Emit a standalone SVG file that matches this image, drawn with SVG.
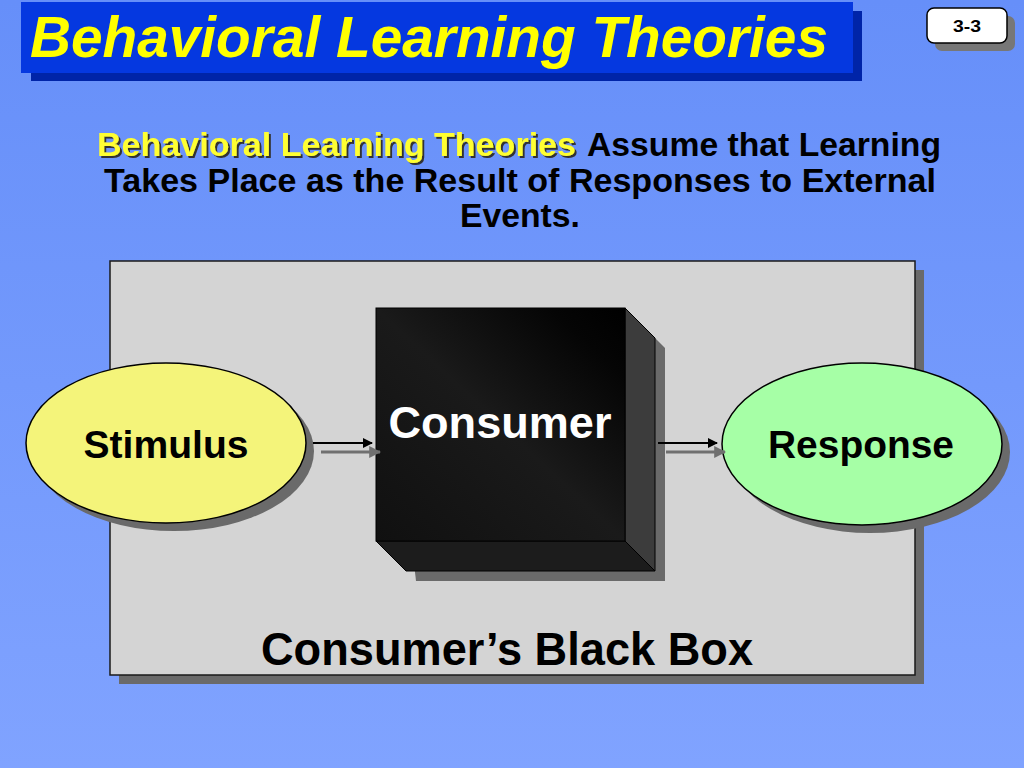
<svg xmlns="http://www.w3.org/2000/svg" width="1024" height="768" viewBox="0 0 1024 768">
<defs>
<linearGradient id="bg" x1="0" y1="0" x2="0" y2="1">
<stop offset="0" stop-color="#668ff9"/>
<stop offset="1" stop-color="#80a3ff"/>
</linearGradient>
<linearGradient id="cubeFront" x1="1" y1="0" x2="0" y2="1">
<stop offset="0" stop-color="#000000"/>
<stop offset="0.15" stop-color="#050505"/>
<stop offset="0.5" stop-color="#1a1a1a"/>
<stop offset="1" stop-color="#101010"/>
</linearGradient>
<filter id="txtShadow" x="-5%" y="-20%" width="110%" height="140%">
<feDropShadow dx="2" dy="2" stdDeviation="0.3" flood-color="#333" flood-opacity="1"/>
</filter>
<marker id="ah" viewBox="0 0 10 10" refX="9" refY="5" markerWidth="5" markerHeight="5" orient="auto" markerUnits="strokeWidth">
<path d="M0,0 L10,5 L0,10 z" fill="#000"/>
</marker>
<marker id="ahg" viewBox="0 0 10 10" refX="9" refY="5" markerWidth="4" markerHeight="4" orient="auto" markerUnits="strokeWidth">
<path d="M0,0 L10,5 L0,10 z" fill="#707070"/>
</marker>
</defs>
<style>
.t{font-family:"Liberation Sans",Arial,sans-serif;font-weight:bold}
.shadow{fill:#6a6a6a}
.ell{stroke:#000;stroke-width:1.5}
</style>
<rect width="1024" height="768" fill="url(#bg)"/>

<g id="title">
<rect x="31" y="11" width="831" height="70" fill="#0024a8"/>
<rect x="21" y="2" width="832" height="71" fill="#0538e0"/>
<text class="t" x="30" y="57" font-size="58" font-style="italic" fill="#ffff00" textLength="798" lengthAdjust="spacingAndGlyphs">Behavioral Learning Theories</text>
</g>

<g id="page-number">
<rect x="935" y="16" width="80" height="35" rx="7" fill="#777"/>
<rect x="927" y="8" width="80" height="35" rx="7" fill="#fff" stroke="#000" stroke-width="1.5"/>
<text class="t" x="967" y="32" font-size="17" text-anchor="middle" fill="#000" textLength="28" lengthAdjust="spacingAndGlyphs">3-3</text>
</g>

<g id="subtitle">
<text class="t" x="97" y="156" font-size="34" fill="#ffff33" filter="url(#txtShadow)" textLength="479" lengthAdjust="spacingAndGlyphs">Behavioral Learning Theories</text>
<text class="t" x="587" y="156" font-size="34" fill="#000" textLength="354" lengthAdjust="spacingAndGlyphs">Assume that Learning</text>
<text class="t" x="104" y="192" font-size="34" fill="#000" textLength="832" lengthAdjust="spacingAndGlyphs">Takes Place as the Result of Responses to External</text>
<text class="t" x="460" y="227" font-size="34" fill="#000" textLength="120" lengthAdjust="spacingAndGlyphs">Events.</text>
</g>

<g id="black-box-frame">
<rect x="119" y="270" width="805" height="414" class="shadow"/>
<rect x="110" y="261" width="805" height="414" fill="#d4d4d4" stroke="#1a1a1a" stroke-width="1.5"/>
<text class="t" x="507" y="665" font-size="47" text-anchor="middle" fill="#000" textLength="492" lengthAdjust="spacingAndGlyphs">Consumer’s Black Box</text>
</g>

<g id="consumer">
<polygon points="386,318 635,318 665,348 665,581 416,581" class="shadow"/>
<polygon points="625,308 655,338 655,571 625,541" fill="#3c3c3c" stroke="#000" stroke-width="1"/>
<polygon points="376,541 625,541 655,571 406,571" fill="#1c1c1c" stroke="#000" stroke-width="1"/>
<rect x="376" y="308" width="249" height="233" fill="url(#cubeFront)" stroke="#000" stroke-width="1"/>
<text class="t" x="500" y="438" font-size="45" text-anchor="middle" fill="#fff" textLength="223" lengthAdjust="spacingAndGlyphs">Consumer</text>
</g>

<g id="stimulus">
<ellipse cx="174" cy="451" rx="140" ry="80" class="shadow"/>
<ellipse cx="166" cy="443" rx="140" ry="80" fill="#f4f47a" class="ell"/>
<text class="t" x="166" y="458" font-size="38" text-anchor="middle" fill="#000" textLength="165" lengthAdjust="spacingAndGlyphs">Stimulus</text>
</g>

<g id="response">
<ellipse cx="870" cy="452" rx="140" ry="81" class="shadow"/>
<ellipse cx="862" cy="444" rx="140" ry="81" fill="#a6ffa6" class="ell"/>
<text class="t" x="861" y="458" font-size="38" text-anchor="middle" fill="#000" textLength="186" lengthAdjust="spacingAndGlyphs">Response</text>
</g>

<g id="connectors">
<line x1="321" y1="452" x2="380" y2="452" stroke="#707070" stroke-width="3" marker-end="url(#ahg)"/>
<line x1="313" y1="443" x2="372" y2="443" stroke="#000" stroke-width="2" marker-end="url(#ah)"/>
<line x1="666" y1="452" x2="725" y2="452" stroke="#707070" stroke-width="3" marker-end="url(#ahg)"/>
<line x1="658" y1="443" x2="717" y2="443" stroke="#000" stroke-width="2" marker-end="url(#ah)"/>
</g>
</svg>
